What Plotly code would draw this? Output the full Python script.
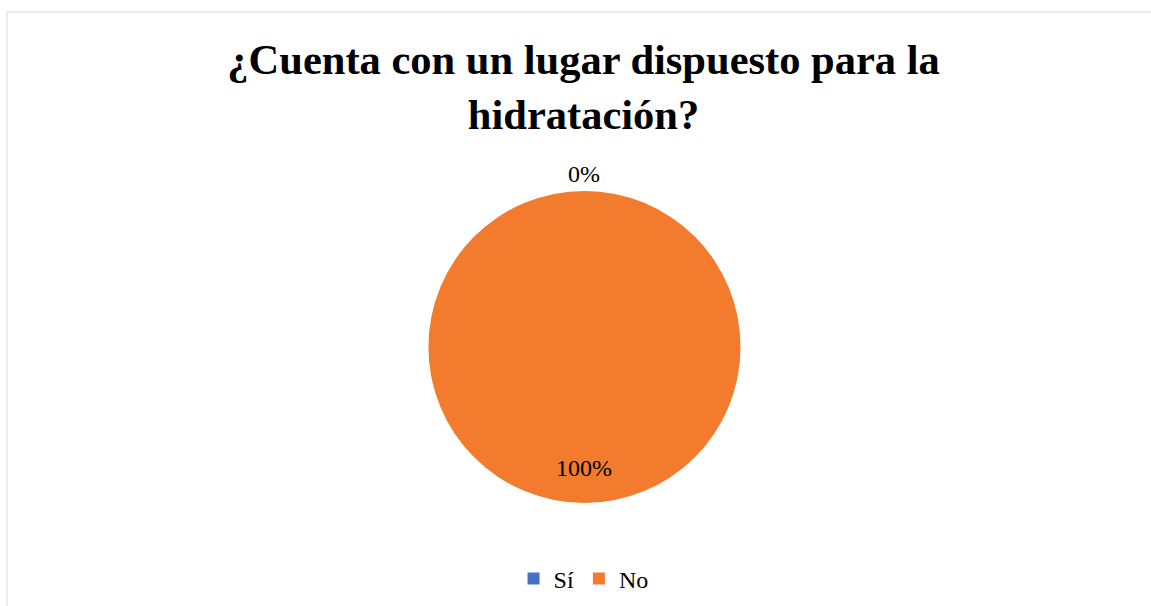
import plotly.graph_objects as go

labels = ["Sí", "No"]
values = [0, 100]
colors = ["#4472C4", "#F27B2E"]

total = sum(values)
pcts = [f"{round(v / total * 100)}%" for v in values]

SERIF = "Liberation Serif, Times New Roman, serif"

fig = go.Figure()
fig.add_trace(go.Pie(
    labels=labels,
    values=values,
    marker=dict(colors=colors, line=dict(width=0)),
    textinfo="none",
    sort=False,
    direction="clockwise",
    rotation=0,
    showlegend=True,
    domain=dict(x=[0.3718, 0.6438], y=[0.170, 0.685]),
    hoverinfo="label+percent",
))

fig.update_layout(
    width=1151,
    height=606,
    margin=dict(l=0, r=0, t=0, b=0),
    paper_bgcolor="white",
    plot_bgcolor="white",
    font=dict(family=SERIF, color="#000000", size=24),
    title=dict(
        text="<b>¿Cuenta con un lugar dispuesto para la<br>hidratación?</b>",
        x=0.507, xanchor="center",
        y=1 - 74 / 606, yanchor="top",
        font=dict(family=SERIF, size=42.5, color="#000000"),
    ),
    legend=dict(
        orientation="h",
        x=0.507, xanchor="center",
        y=(606 - 579) / 606, yanchor="middle",
        font=dict(size=24, family=SERIF),
        itemsizing="constant",
        itemwidth=30,
    ),
    annotations=[
        dict(text=pcts[0], x=0.507, y=(606 - 174) / 606, xref="paper", yref="paper",
             xanchor="center", yanchor="middle", showarrow=False, font=dict(size=24)),
        dict(text=pcts[1], x=0.507, y=(606 - 468) / 606, xref="paper", yref="paper",
             xanchor="center", yanchor="middle", showarrow=False, font=dict(size=24)),
    ],
    shapes=[
        dict(type="rect", xref="paper", yref="paper",
             x0=7 / 1151, x1=1.01, y0=-0.01, y1=1 - 12 / 606,
             line=dict(color="#D9D9D9", width=1), fillcolor="rgba(0,0,0,0)"),
    ],
)

fig.write_html("out.html", config={"displayModeBar": False},
               post_script="document.body.style.margin='0';")
